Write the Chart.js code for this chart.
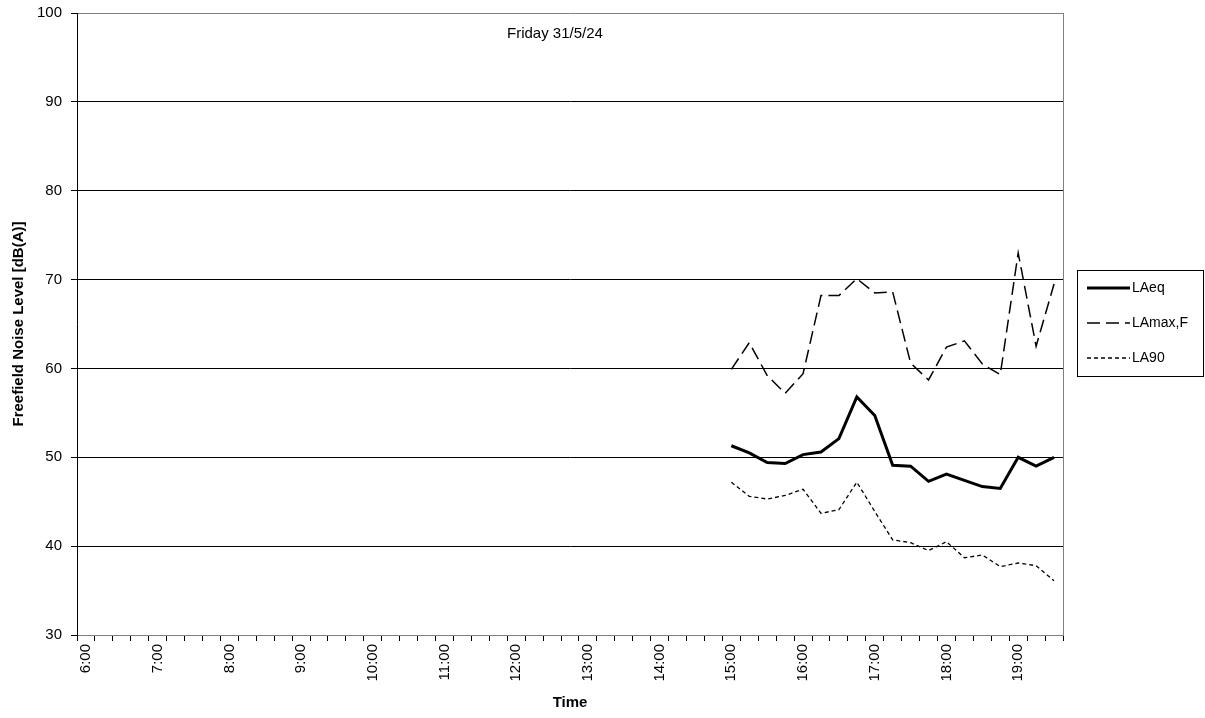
<!DOCTYPE html>
<html>
<head>
<meta charset="utf-8">
<script src="https://cdn.jsdelivr.net/npm/chart.js@4.4.1/dist/chart.umd.min.js"></script>
<style>
  html, body { margin: 0; padding: 0; background: #fff; }
  canvas { display: block; }
</style>
</head>
<body>
<canvas id="noiseChart" width="1205" height="718"></canvas>
<script>
// 15 minute periods across the day
const times = [
    '6:00', '6:15', '6:30', '6:45', '7:00', '7:15', '7:30', '7:45',
    '8:00', '8:15', '8:30', '8:45', '9:00', '9:15', '9:30', '9:45',
    '10:00', '10:15', '10:30', '10:45', '11:00', '11:15', '11:30', '11:45',
    '12:00', '12:15', '12:30', '12:45', '13:00', '13:15', '13:30', '13:45',
    '14:00', '14:15', '14:30', '14:45', '15:00', '15:15', '15:30', '15:45',
    '16:00', '16:15', '16:30', '16:45', '17:00', '17:15', '17:30', '17:45',
    '18:00', '18:15', '18:30', '18:45', '19:00', '19:15', '19:30'
];
const hourLabels = ['6:00', '7:00', '8:00', '9:00', '10:00', '11:00', '12:00', '13:00',
    '14:00', '15:00', '16:00', '17:00', '18:00', '19:00'];

// measured periods
const measuredTimes = [
    '15:00', '15:15', '15:30', '15:45', '16:00', '16:15', '16:30', '16:45',
    '17:00', '17:15', '17:30', '17:45', '18:00', '18:15', '18:30', '18:45',
    '19:00', '19:15', '19:30'
];
const laeq = [51.3, 50.5, 49.4, 49.3, 50.3, 50.6, 52.1, 56.8, 54.7, 49.1,
    49.0, 47.3, 48.1, 47.4, 46.7, 46.5, 50.0, 49.0, 50.0];
const lamax = [59.9, 62.9, 59.2, 57.2, 59.4, 68.2, 68.2, 70.1, 68.5, 68.6,
    60.6, 58.7, 62.4, 63.1, 60.5, 59.3, 73.0, 62.5, 69.5];
const la90 = [47.2, 45.6, 45.3, 45.7, 46.4, 43.7, 44.1, 47.2, 43.9, 40.7,
    40.4, 39.5, 40.5, 38.7, 39.0, 37.7, 38.1, 37.8, 36.1];

const yTicks = [30, 40, 50, 60, 70, 80, 90, 100];
const chartTitle = 'Friday 31/5/24';

const FONT = 'Arial, "Liberation Sans", sans-serif';

function toPoints(values) {
    return values.map((v, i) => ({ x: measuredTimes[i], y: v }));
}

// title inside the plot, boxed legend on the right, grey right border
const extras = {
    id: 'extras',
    afterDraw(chart) {
        const ctx = chart.ctx;
        const area = chart.chartArea;
        ctx.save();

        ctx.strokeStyle = '#808080';
        ctx.lineWidth = 1;
        ctx.beginPath();
        ctx.moveTo(area.right + 0.5, area.top);
        ctx.lineTo(area.right + 0.5, area.bottom);
        ctx.stroke();

        ctx.fillStyle = '#000';
        ctx.font = '15px ' + FONT;
        ctx.textAlign = 'left';
        ctx.textBaseline = 'middle';
        ctx.fillText(chartTitle, 507, 34);

        const box = { x: 1077, y: 270, w: 127, h: 107 };
        ctx.strokeStyle = '#000';
        ctx.strokeRect(box.x + 0.5, box.y + 0.5, box.w - 1, box.h - 1);

        ctx.font = '14px ' + FONT;
        chart.data.datasets.forEach((ds, i) => {
            const y = box.y + 18 + i * 35;
            ctx.beginPath();
            ctx.lineWidth = ds.borderWidth;
            ctx.setLineDash(ds.borderDash || []);
            ctx.moveTo(box.x + 10, y);
            ctx.lineTo(box.x + 53, y);
            ctx.stroke();
            ctx.setLineDash([]);
            ctx.fillText(ds.label, box.x + 55, y);
        });
        ctx.restore();
    }
};

new Chart(document.getElementById('noiseChart'), {
    type: 'line',
    data: {
        labels: times,
        datasets: [
            { label: 'LAeq', data: toPoints(laeq), borderColor: '#000', borderWidth: 3, pointRadius: 0, tension: 0 },
            { label: 'LAmax,F', data: toPoints(lamax), borderColor: '#000', borderWidth: 1.5, borderDash: [13, 6], pointRadius: 0, tension: 0 },
            { label: 'LA90', data: toPoints(la90), borderColor: '#000', borderWidth: 1.3, borderDash: [4, 3], pointRadius: 0, tension: 0 }
        ]
    },
    options: {
        responsive: false,
        animation: false,
        layout: { padding: { left: 0, right: 142, top: 13, bottom: 0 } },
        scales: {
            x: {
                type: 'category',
                offset: true,
                afterFit: scale => { scale.height = 83; },
                grid: {
                    offset: true,
                    drawOnChartArea: false,
                    drawTicks: true,
                    tickLength: 6,
                    color: '#000'
                },
                border: { color: '#808080' },
                ticks: {
                    autoSkip: false,
                    maxRotation: 90,
                    minRotation: 90,
                    padding: 3,
                    color: '#000',
                    font: { family: FONT, size: 15 },
                    callback: function (value) {
                        const label = this.getLabelForValue(value);
                        return hourLabels.includes(label) ? label : '';
                    }
                },
                title: {
                    display: true,
                    text: 'Time',
                    color: '#000',
                    font: { family: FONT, size: 15, weight: 'bold' },
                    padding: { top: 0, bottom: 6 }
                }
            },
            y: {
                min: yTicks[0],
                max: yTicks[yTicks.length - 1],
                afterFit: scale => {
                    scale.width = 77;
                    scale.paddingTop = 0;
                    scale.paddingBottom = 0;
                },
                afterBuildTicks: scale => { scale.ticks = yTicks.map(v => ({ value: v })); },
                grid: {
                    color: c => (c.tick && (c.tick.value === 100 || c.tick.value === 30)) ? '#808080' : '#000',
                    tickColor: '#000',
                    tickLength: 6
                },
                border: { color: '#000' },
                ticks: {
                    padding: 9,
                    color: '#000',
                    font: { family: FONT, size: 15 }
                },
                title: {
                    display: true,
                    text: 'Freefield Noise Level [dB(A)]',
                    color: '#000',
                    font: { family: FONT, size: 15, weight: 'bold' },
                    padding: { top: 10, bottom: 0 }
                }
            }
        },
        plugins: {
            legend: { display: false },
            title: { display: false },
            tooltip: { enabled: false }
        }
    },
    plugins: [extras]
});
</script>
</body>
</html>
